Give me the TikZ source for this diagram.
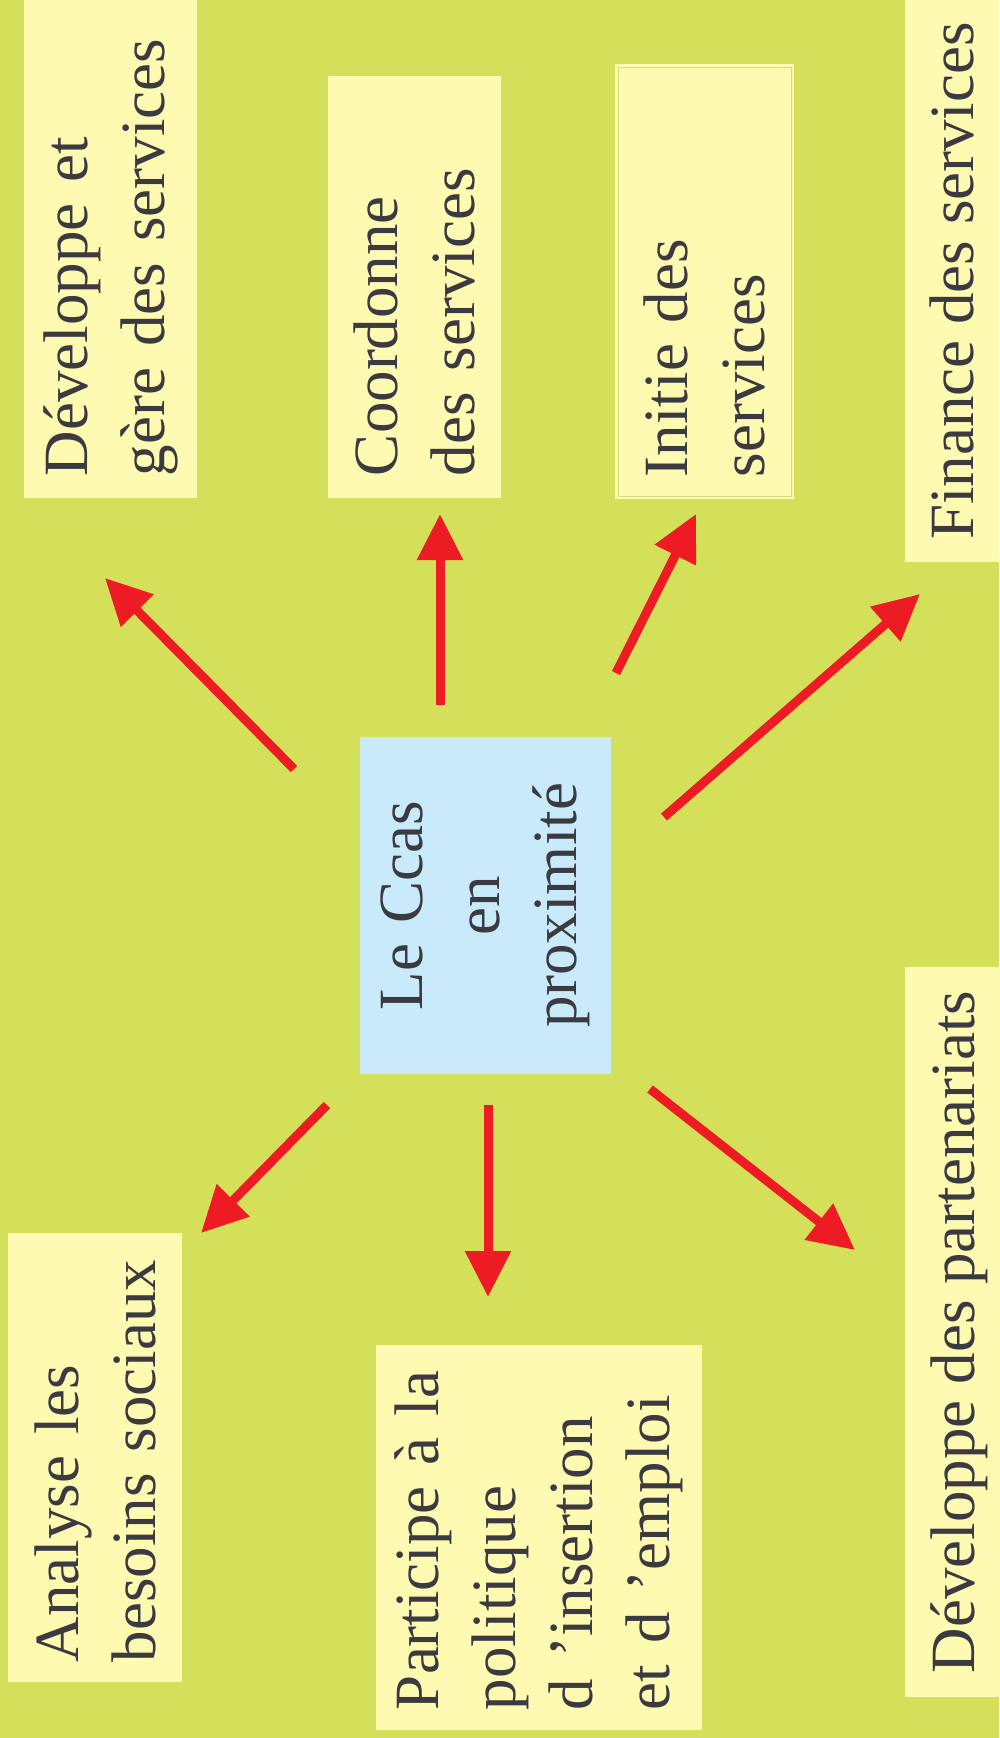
\documentclass[tikz,border=0pt]{standalone}
\usepackage{fontspec}
\setmainfont{Liberation Serif}
\usetikzlibrary{arrows.meta}

\definecolor{fondvert}{RGB}{212,224,90}
\definecolor{jaunepale}{RGB}{255,250,178}
\definecolor{bleuclair}{RGB}{200,234,250}
\definecolor{rougevif}{RGB}{237,28,36}
\definecolor{texte}{RGB}{58,58,64}
\definecolor{filet}{RGB}{214,219,124}

\begin{document}
\begin{tikzpicture}[x=1pt,y=1pt,yscale=-1,xscale=1,
    carte/.style={rotate=90, fill=jaunepale, inner sep=0pt, text=texte, font=\fontsize{63}{77}\selectfont},
    carteg/.style={carte, align=left},
    centre/.style={carte, fill=bleuclair, align=center},
    fleche/.style={draw=rougevif, line width=9pt, -{Triangle[length=46pt,width=44pt]}}]
                \useasboundingbox (0,0) rectangle (999,1738);
                %Shape: Rectangle [background]
                \fill[fondvert] (0,0) rectangle (999,1738);

                % Text Node
                \node[carteg, minimum width=498, minimum height=173, text width=454] (devgere) at (110.5,249) {Développe et\\gère des services};
                % Text Node
                \node[carteg, minimum width=422, minimum height=173, text width=378] (coord) at (414.5,287) {Coordonne\\des services};
                % Text Node
                \node[carteg, minimum width=435, minimum height=179, text width=391] (initie) at (704.5,281.5) {Initie des\\services};
                %Shape: Rectangle [inner frame]
                \draw[filet, line width=1pt] (618,67) rectangle (791,496);
                % Text Node
                \node[carte, minimum width=562, minimum height=94] (finance) at (952,281) {Finance des services};

                % Text Node
                \node[centre, minimum width=337, minimum height=251, text width=300] (ccas) at (485.5,905.5) {Le Ccas\\en\\proximité};

                % Text Node
                \node[carteg, minimum width=449, minimum height=174, text width=409] (analyse) at (95,1457.5) {Analyse les\\besoins sociaux};
                % Text Node
                \node[carteg, minimum width=385, minimum height=326, text width=345] (particip) at (539,1537.5) {Participe à la\\politique\\d ’insertion\\et d ’emploi};
                % Text Node
                \node[carte, minimum width=730, minimum height=109] (partenar) at (959.5,1332) {Développe des partenariats};

                %Straight Lines [arrow ends]
                \coordinate (a1) at (294,769);  \coordinate (t1) at (105,578);
                \coordinate (a2) at (440,705);  \coordinate (t2) at (440,514);
                \coordinate (a3) at (616,673);  \coordinate (t3) at (696,514);
                \coordinate (a4) at (664,817);  \coordinate (t4) at (920,594);
                \coordinate (a5) at (327,1105); \coordinate (t5) at (201,1233);
                \coordinate (a6) at (488,1105); \coordinate (t6) at (488,1297);
                \coordinate (a7) at (650,1089); \coordinate (t7) at (855,1250);

                %Straight Lines
                \draw[fleche] (a1) -- (t1);
                \draw[fleche] (a2) -- (t2);
                \draw[fleche] (a3) -- (t3);
                \draw[fleche] (a4) -- (t4);
                \draw[fleche] (a5) -- (t5);
                \draw[fleche] (a6) -- (t6);
                \draw[fleche] (a7) -- (t7);

\end{tikzpicture}
\end{document}
